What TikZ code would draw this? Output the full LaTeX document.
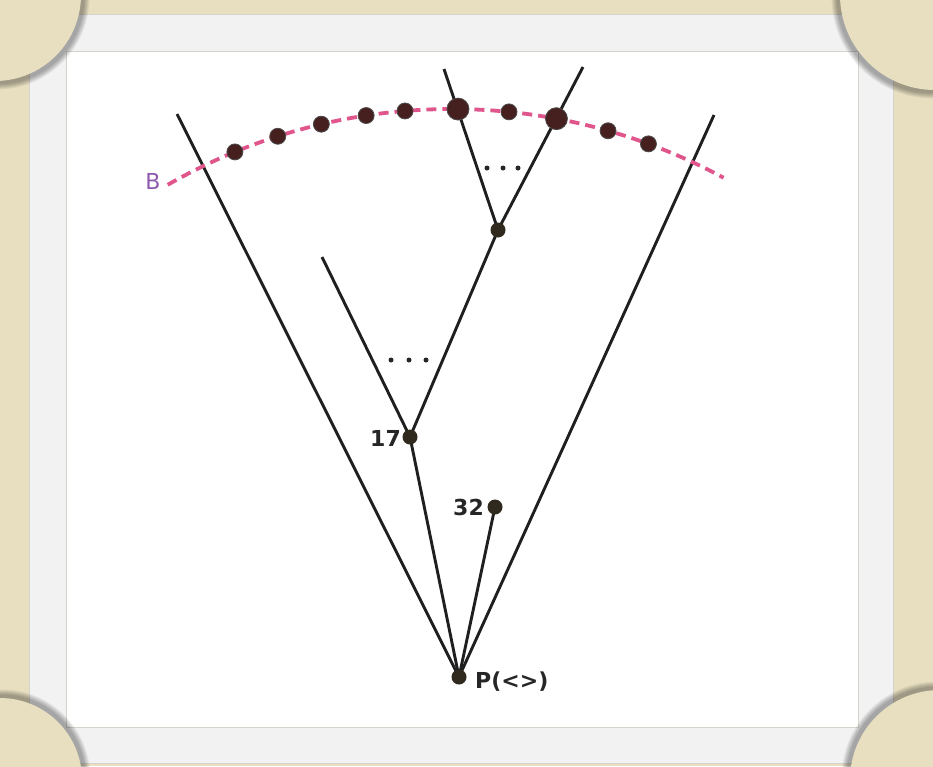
\documentclass[tikz,border=0pt]{standalone}
\usepackage{fontspec}
\setmainfont{DejaVu Sans}
\usetikzlibrary{calc}
\definecolor{beige}{HTML}{E8DFC1}
\definecolor{framegray}{HTML}{F2F2F2}
\definecolor{frameline}{HTML}{D6D3CC}
\definecolor{treedot}{HTML}{2F2A1D}
\definecolor{arcdotc}{HTML}{46201F}
\definecolor{arcpink}{HTML}{E0568C}
\definecolor{bpurple}{HTML}{8F5AAE}
\pgfdeclarelayer{back}
\pgfdeclarelayer{lines}
\pgfsetlayers{back,lines,main}
\tikzset{
  tdot/.style={circle,fill=treedot,inner sep=0pt,minimum size=15pt},
  adot/.style={circle,fill=arcdotc,draw=black!70,line width=0.8pt,inner sep=0pt,minimum size=16pt},
  bigadot/.style={adot,minimum size=22pt},
  edge/.style={line width=2.9pt,black!88},
  lbl/.style={font=\fontsize{22}{24}\selectfont\bfseries,text=black!85,inner sep=0pt},
  ell/.style={circle,fill=black!85,inner sep=0pt,minimum size=5pt},
  mount/.style={fill=beige},
}
\begin{document}
\begin{tikzpicture}[x=1pt,y=-1pt]
\useasboundingbox (0,0) rectangle (933,766);
\begin{pgfonlayer}{back}
  \fill[beige] (0,0) rectangle (933,766);
  \filldraw[fill=framegray,draw=frameline,line width=0.8pt] (29,14) rectangle (893,763);
  \filldraw[fill=white,draw=frameline,line width=0.8pt] (66,51) rectangle (858,727);
  % corner mounts with soft shadow
  \foreach \cx/\cy/\r/\dx/\dy in {-5/-5/86/4/4, 935/-5/95/-4/4, 0/780/82/4/-4, 940/780/90/-4/-4}{
    \foreach \k in {1,...,6}{
      \fill[black,opacity=0.06] ({\cx+\dx*0.6},{\cy+\dy*0.6}) circle ({\r+\k});
    }
    \fill[mount] (\cx,\cy) circle (\r);
  }
\end{pgfonlayer}

% named positions
\node[tdot] (P) at (459,677) {};
\node[tdot] (n17) at (410,437) {};
\node[tdot] (n32) at (495,507) {};
\node[tdot] (U) at (498,230) {};
\coordinate (C) at (452,680);
\coordinate (L) at (177,114);
\coordinate (R) at (714,115);
\coordinate (LL) at (322,257);
\coordinate (T1) at (444,69);
\coordinate (T2) at (583,67);

% arc dots
\foreach \a [count=\i] in {112.35,107.77,103.23,98.65,94.72,84.27,74.14,69.88}{
  \node[adot] (a\i) at ({452+571*cos(\a)},{680-571*sin(\a)}) {};
}
\node[bigadot] (bd1) at ({452+571*cos(89.4)},{680-571*sin(89.4)}) {};
\node[bigadot] (bd2) at ({452+571*cos(79.46)},{680-571*sin(79.46)}) {};

\begin{pgfonlayer}{lines}
  \draw[edge] (L) -- (P.center);
  \draw[edge] (R) -- (P.center);
  \draw[edge] (P.center) -- (n17.center);
  \draw[edge] (P.center) -- (n32.center);
  \draw[edge] (n17.center) -- (LL);
  \draw[edge] (n17.center) -- (U.center);
  \draw[edge] (U.center) -- (T1);
  \draw[edge] (U.center) -- (T2);
  \draw[arcpink,line width=3.8pt,dash pattern=on 10pt off 6pt]
    plot[domain=119.86:61.6,samples=80,smooth] ({452+571*cos(\x)},{680-571*sin(\x)});
\end{pgfonlayer}

% ellipses
\node[ell] (e1) at (391,360) {};
\node[ell] (e2) at (409,360) {};
\node[ell] (e3) at (426,360) {};
\node[ell] (e4) at (487,168) {};
\node[ell] (e5) at (503,168) {};
\node[ell] (e6) at (518,168) {};

% labels
\node[lbl,anchor=east] (l17) at (401,438) {17};
\node[lbl,anchor=east] (l32) at (484,507) {32};
\node[lbl,anchor=west] (lP) at (475,682) {P(<>)};
\node[font=\fontsize{22}{24}\selectfont,text=bpurple,inner sep=0pt] (lB) at (153,181) {B};
\end{tikzpicture}
\end{document}
